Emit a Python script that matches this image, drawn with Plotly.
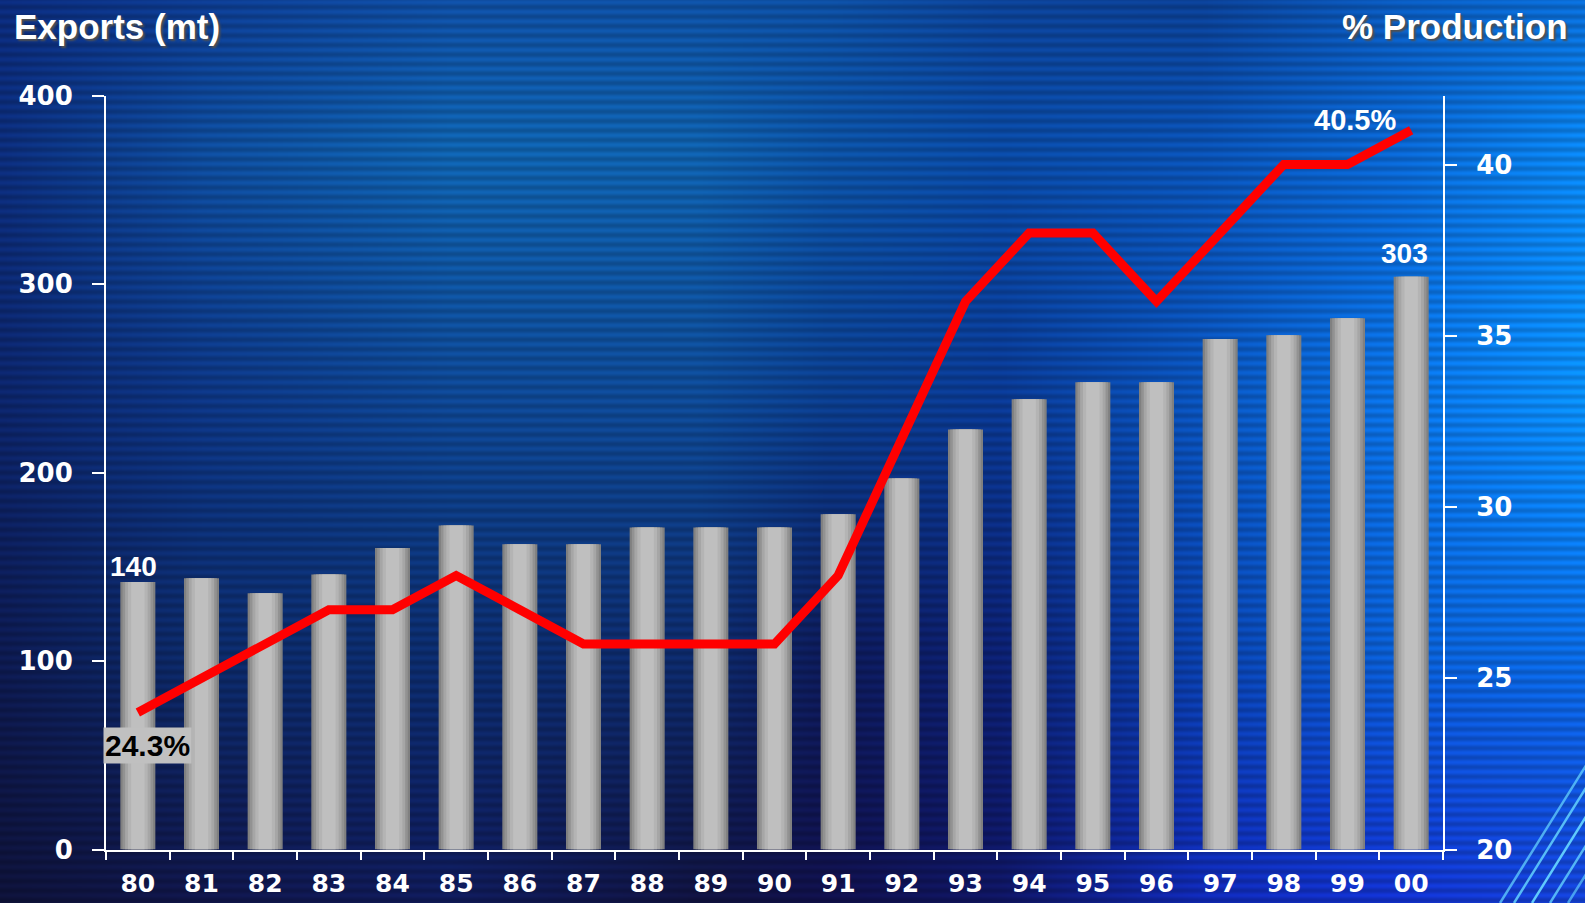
import base64
import struct
import zlib

import numpy as np
import plotly.graph_objects as go

# ---------------- data ----------------
years = ['80', '81', '82', '83', '84', '85', '86', '87', '88', '89', '90',
         '91', '92', '93', '94', '95', '96', '97', '98', '99', '00']
exports_mt = [142, 144, 136, 146, 160, 172, 162, 162, 171, 171, 171,
              178, 197, 223, 239, 248, 248, 271, 273, 282, 304]
pct_production = [24, 25, 26, 27, 27, 28, 27, 26, 26, 26, 26,
                  28, 32, 36, 38, 38, 36, 38, 40, 40, 41]
left_ticks = [0, 100, 200, 300, 400]
right_ticks = [20, 25, 30, 35, 40]

W, H = 1585, 903

# ---------------- decorative background (blue striped gradient) ----------------
anchor_x = [0, 200, 450, 700, 830, 1000, 1200, 1400, 1585]
anchor_y = [0, 150, 400, 650, 903]
anchor_colors = [
    ['#0b2a78', '#0d3a8c', '#0f4c9e', '#0e4e9e', '#0d4c9c', '#0c4092', '#0b3e90', '#0a58b8', '#0a6ad0'],
    ['#0c2c78', '#0e4a98', '#0f60aa', '#0f5ea8', '#0c50a0', '#0a48a0', '#0a50b0', '#0a64cc', '#0a82ea'],
    ['#0c2468', '#0d3480', '#0e4590', '#0e4892', '#0b3c8a', '#0a3890', '#0a52b8', '#0a70e0', '#0a8cf5'],
    ['#0d1a50', '#0c2a68', '#0c2c6c', '#0d2a6a', '#0d1a58', '#0c2070', '#0a40a8', '#0a5ed0', '#0a6ae0'],
    ['#0e1238', '#101548', '#0f1a58', '#10123e', '#10104a', '#0f1560', '#1028b0', '#1230c8', '#1440d0'],
]


def hex2rgb(h):
    return [int(h[i:i + 2], 16) for i in (1, 3, 5)]


dx = 5
cols = np.arange(0, W, dx) + dx / 2
rows = np.arange(0, H) + 0.5
anc = np.array([[hex2rgb(c) for c in row] for row in anchor_colors], dtype=float)
along_x = np.zeros((len(anchor_y), len(cols), 3))
for r in range(len(anchor_y)):
    for c in range(3):
        along_x[r, :, c] = np.interp(cols, anchor_x, anc[r, :, c])
img = np.zeros((len(rows), len(cols), 3))
for j in range(len(cols)):
    for c in range(3):
        img[:, j, c] = np.interp(rows, anchor_y, along_x[:, j, c])
stripe = 1 + 0.10 * np.sin(2 * np.pi * rows / 9.5)
img = np.clip(img * stripe[:, None, None], 0, 255).astype(np.uint8)


def png_uri(arr):
    h, w, _ = arr.shape
    raw = b''.join(b'\x00' + arr[i].tobytes() for i in range(h))

    def chunk(tag, data):
        return (struct.pack('>I', len(data)) + tag + data
                + struct.pack('>I', zlib.crc32(tag + data) & 0xffffffff))

    png = (b'\x89PNG\r\n\x1a\n'
           + chunk(b'IHDR', struct.pack('>IIBBBBB', w, h, 8, 2, 0, 0, 0))
           + chunk(b'IDAT', zlib.compress(raw, 9))
           + chunk(b'IEND', b''))
    return 'data:image/png;base64,' + base64.b64encode(png).decode()


fig = go.Figure()

# ---------------- bars (cylinder look via overlaid layers) ----------------
bar_layers = [(0.55, '#808080'), (0.48, '#929292'), (0.40, '#a6a6a6'),
              (0.31, '#b4b4b4'), (0.21, '#bfbfbf')]
for w, col in bar_layers:
    fig.add_trace(go.Bar(x=years, y=exports_mt, width=w, marker=dict(color=col, line=dict(width=0)),
                         xaxis='x', yaxis='y', hoverinfo='skip', showlegend=False))

# ---------------- line ----------------
fig.add_trace(go.Scatter(x=years, y=pct_production, mode='lines', xaxis='x', yaxis='y2',
                         line=dict(color='#ff0000', width=9), showlegend=False))

# ---------------- layout ----------------
axis_font = dict(family='DejaVu Sans', size=26, color='white', weight='bold')
x_font = dict(family='DejaVu Sans', size=25, color='white', weight='bold')
x_dom = [106 / W, 1443 / W]
y_dom = [(H - 849.5) / H, (H - 96) / H]
common = dict(showline=True, linecolor='white', linewidth=2, showgrid=False, zeroline=False,
              ticks='outside', tickwidth=2, tickcolor='white', automargin=False)

fig.update_layout(
    width=W, height=H,
    margin=dict(l=0, r=0, t=0, b=0, pad=0, autoexpand=False),
    paper_bgcolor='#0b2a70', plot_bgcolor='rgba(0,0,0,0)',
    barmode='overlay', showlegend=False,
    xaxis=dict(domain=x_dom, anchor='y', type='category', range=[-0.5, 20.5],
               tickson='boundaries', ticklen=8, ticklabelstandoff=10, tickfont=x_font, **common),
    yaxis=dict(domain=y_dom, anchor='x', range=[0, 400], tickvals=left_ticks,
               ticklen=12, ticklabelstandoff=14, tickfont=axis_font, **common),
    yaxis2=dict(overlaying='y', side='right', anchor='x', range=[20, 42], tickvals=right_ticks,
                ticklen=12, ticklabelstandoff=14, tickfont=axis_font, **common),
    images=[dict(source=png_uri(img), xref='paper', yref='paper', x=0, y=1, sizex=1, sizey=1,
                 sizing='stretch', xanchor='left', yanchor='top', layer='below')],
)

title_font = dict(family='Liberation Sans', size=35, color='white', weight='bold',
                  shadow='2px 2px 2px #505050')
label_font = dict(family='Liberation Sans', size=28, color='white', weight='bold')
first, last = 0, len(years) - 1

fig.add_annotation(text='Exports (mt)', xref='paper', yref='paper', x=12 / W, y=1 - 27 / H,
                   xanchor='left', yanchor='middle', showarrow=False, font=title_font)
fig.add_annotation(text='% Production', xref='paper', yref='paper', x=1570 / W, y=1 - 27 / H,
                   xanchor='right', yanchor='middle', showarrow=False, font=title_font)

fig.add_annotation(text='140', x=first, y=exports_mt[first], xref='x', yref='y',
                   xanchor='center', yanchor='bottom', xshift=-4, yshift=-2, showarrow=False,
                   font=label_font)
fig.add_annotation(text='303', x=last, y=exports_mt[last], xref='x', yref='y',
                   xanchor='center', yanchor='bottom', xshift=-7, yshift=6, showarrow=False,
                   font=label_font)
fig.add_annotation(text='24.3%', x=first, y=pct_production[first], xref='x', yref='y2',
                   xanchor='center', yanchor='top', xshift=10, yshift=-14, showarrow=False,
                   bgcolor='#c0c0c0', borderpad=1,
                   font=dict(family='Liberation Sans', size=30, color='black', weight='bold'))
fig.add_annotation(text='40.5%', x=last, y=pct_production[last], xref='x', yref='y2',
                   xanchor='center', yanchor='middle', xshift=-56, yshift=10, showarrow=False,
                   font=dict(family='Liberation Sans', size=29, color='white', weight='bold'))

# decorative diagonal light streaks, bottom-right corner
for x_start, alpha in [(1500, 0.75), (1514, 0.85), (1532, 0.95), (1550, 0.8), (1568, 0.65)]:
    fig.add_shape(type='line', xref='paper', yref='paper',
                  x0=x_start / W, y0=0, x1=(x_start + 100) / W, y1=160 / H,
                  line=dict(color=f'rgba(100,210,255,{alpha})', width=2.5), layer='below')

fig.write_html('out.html')
